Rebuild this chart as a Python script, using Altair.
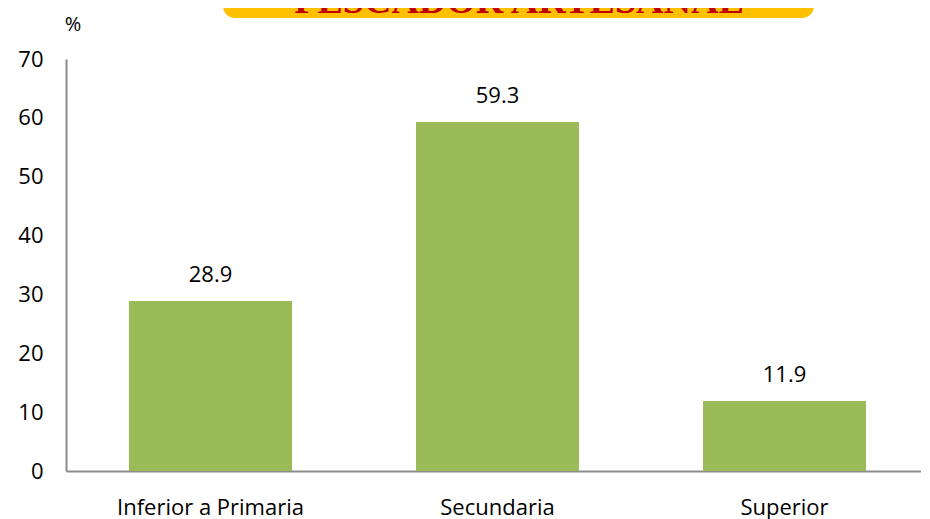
import altair as alt
import pandas as pd

categories = ["Inferior a Primaria", "Secundaria", "Superior"]
values = [28.9, 59.3, 11.9]
y_ticks = [0, 10, 20, 30, 40, 50, 60, 70]
title_text = "PESCADOR ARTESANAL"
unit_text = "%"

df = pd.DataFrame({"cat": categories, "val": values})

FONT = "Open Sans"

x_enc = alt.X(
    "cat:N",
    sort=categories,
    scale=alt.Scale(paddingInner=0.432, paddingOuter=0.2055, align=0.534),
    axis=alt.Axis(
        title=None, labelAngle=0, ticks=False, labelPadding=26, labelLimit=0,
        labelFontSize=22, labelFont=FONT, labelColor="#000000",
        domainColor="#8c8c8c", domainWidth=2,
    ),
)
y_enc = alt.Y(
    "val:Q",
    scale=alt.Scale(domain=[0, 70], nice=False),
    axis=alt.Axis(
        title=None, values=y_ticks, ticks=False, grid=False, labelPadding=23,
        labelFontSize=22, labelFont=FONT, labelColor="#000000",
        domainColor="#8c8c8c", domainWidth=2,
    ),
)

base = alt.Chart(df)
bars = base.mark_bar(color="#9BBB59").encode(x=x_enc, y=y_enc)
labels = base.mark_text(
    dy=-19, baseline="alphabetic", font=FONT, fontSize=22, color="#000000"
).encode(x=alt.X("cat:N", sort=categories), y="val:Q", text=alt.Text("val:Q", format=".1f"))

deco = alt.Chart(alt.Data(values=[{"t": title_text, "u": unit_text}]))
box = deco.mark_rect(color="#FFC000", cornerRadius=12).encode(
    x=alt.value(157), x2=alt.value(748), y=alt.value(-80), y2=alt.value(-41)
)
title = deco.mark_text(
    font="Liberation Serif", fontWeight="bold", fontSize=38, color="#C00000",
    baseline="alphabetic", align="center",
).encode(x=alt.value(453), y=alt.value(-46), text="t:N")
unit = deco.mark_text(
    font=FONT, fontSize=20, color="#000000", baseline="alphabetic", align="center"
).encode(x=alt.value(7), y=alt.value(-28), text="u:N")

chart = alt.layer(bars, labels, box, title, unit).properties(
    width=855, height=412,
    autosize=alt.AutoSizeParams(type="none"),
    padding={"left": 58, "top": 51, "right": 0, "bottom": 48},
).configure_view(stroke=None)

chart.save("out.html", embed_options={"renderer": "svg", "actions": False})
